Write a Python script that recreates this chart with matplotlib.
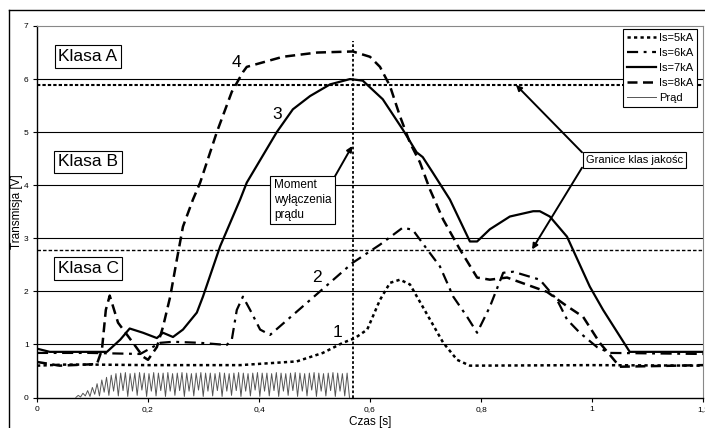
import matplotlib.pyplot as plt
import numpy as np
from matplotlib.lines import Line2D

OUT_FILE = "out.png"

# Is=5kA (krzywa 1)
T1 = [0, 0.05, 0.1, 0.2, 0.3, 0.366, 0.468, 0.515, 0.551, 0.573, 0.595, 0.618,
      0.636, 0.654, 0.672, 0.695, 0.732, 0.757, 0.78, 1.0, 1.2]
V1 = [0.6, 0.62, 0.62, 0.61, 0.61, 0.61, 0.68, 0.84, 1.03, 1.12, 1.28, 1.84,
      2.16, 2.22, 2.13, 1.71, 1.03, 0.71, 0.6, 0.61, 0.6]

# Is=6kA (krzywa 2)
T2 = [0, 0.095, 0.186, 0.222, 0.245, 0.294, 0.342, 0.351, 0.36, 0.371, 0.384,
      0.402, 0.42, 0.51, 0.569, 0.618, 0.659, 0.677, 0.703, 0.726, 0.75, 0.775,
      0.793, 0.816, 0.84, 0.858, 0.906, 0.937, 0.955, 0.978, 1.009, 1.032, 1.2]
V2 = [0.84, 0.84, 0.82, 1.03, 1.05, 1.03, 0.99, 1.09, 1.65, 1.9, 1.65,
      1.28, 1.18, 2.0, 2.54, 2.88, 3.2, 3.16, 2.79, 2.47, 1.9, 1.52,
      1.22, 1.71, 2.35, 2.37, 2.22, 1.84, 1.47, 1.22, 0.95, 0.84, 0.82]

# Is=7kA (krzywa 3)
T3 = [0, 0.023, 0.126, 0.15, 0.167, 0.191, 0.216, 0.227, 0.245, 0.263, 0.288,
      0.299, 0.33, 0.366, 0.378, 0.432, 0.461, 0.492, 0.528, 0.564, 0.587,
      0.623, 0.659, 0.684, 0.695, 0.713, 0.744, 0.78, 0.793, 0.816, 0.852,
      0.894, 0.906, 0.924, 0.955, 0.996, 1.02, 1.068, 1.2]
V3 = [0.92, 0.86, 0.86, 1.09, 1.3, 1.22, 1.12, 1.22, 1.14, 1.28, 1.6,
      1.9, 2.85, 3.73, 4.05, 5.0, 5.43, 5.68, 5.9, 6.0, 5.97,
      5.62, 5.05, 4.62, 4.53, 4.24, 3.73, 2.94, 2.94, 3.17, 3.41,
      3.51, 3.51, 3.41, 3.03, 2.09, 1.65, 0.86, 0.86]

# Is=8kA (krzywa 4)
T4 = [0, 0.041, 0.108, 0.117, 0.124, 0.131, 0.146, 0.173, 0.191, 0.2, 0.216,
      0.227, 0.24, 0.252, 0.263, 0.281, 0.294, 0.324, 0.351, 0.371, 0.378,
      0.443, 0.505, 0.569, 0.6, 0.618, 0.636, 0.654, 0.672, 0.69, 0.708,
      0.732, 0.762, 0.793, 0.816, 0.847, 0.919, 0.951, 0.984, 1.014, 1.05, 1.2]
V4 = [0.67, 0.6, 0.63, 0.9, 1.65, 1.92, 1.41, 1.03, 0.77, 0.71, 0.95,
      1.33, 1.9, 2.6, 3.22, 3.73, 4.05, 5.0, 5.76, 6.13, 6.23,
      6.42, 6.5, 6.52, 6.42, 6.23, 5.87, 5.3, 4.8, 4.43, 3.92,
      3.35, 2.79, 2.26, 2.22, 2.26, 1.99, 1.75, 1.52, 1.03, 0.58, 0.61]

# Prąd - przebieg wyprostowany (wierzchołki i doliny)
PRAD_T0 = 0.07
PRAD_STEP = 0.0085
PRAD_PEAKS = [0.04, 0.08, 0.13, 0.19, 0.26, 0.33, 0.38, 0.42, 0.45, 0.46,
              0.47, 0.45, 0.46, 0.47, 0.46, 0.45, 0.47, 0.46, 0.46, 0.47,
              0.45, 0.46, 0.47, 0.46, 0.45, 0.46, 0.47, 0.46, 0.46, 0.45,
              0.47, 0.46, 0.45, 0.46, 0.47, 0.46, 0.45, 0.46, 0.47, 0.46,
              0.46, 0.45, 0.47, 0.46, 0.45, 0.46, 0.47, 0.46, 0.45, 0.46,
              0.47, 0.46, 0.45, 0.46, 0.47, 0.46, 0.45, 0.46]
PRAD_TROUGHS = [0.0, 0.01, 0.03, 0.02, 0.06, 0.03, 0.1, 0.04, 0.12, 0.03,
                0.13, 0.02, 0.12, 0.04, 0.14, 0.02, 0.12, 0.03, 0.13, 0.02,
                0.12, 0.04, 0.13, 0.02, 0.12, 0.03, 0.14, 0.02, 0.12, 0.03,
                0.13, 0.02, 0.12, 0.04, 0.13, 0.02, 0.12, 0.03, 0.14, 0.02,
                0.12, 0.03, 0.13, 0.02, 0.12, 0.04, 0.13, 0.02, 0.12, 0.03,
                0.14, 0.02, 0.12, 0.03, 0.13, 0.02, 0.12, 0.03, 0.0]

T_OFF = 0.57          # moment wyłączenia prądu
T_OFF_TOP = 6.71
GRANICA_AB = 5.89
GRANICA_BC = 2.78

X_TICKS = [0, 0.2, 0.4, 0.6, 0.8, 1.0, 1.2]
X_LABELS = ["0", "0,2", "0,4", "0,6", "0,8", "1", "1,2"]
Y_TICKS = [0, 1, 2, 3, 4, 5, 6, 7]

LEGEND_LABELS = ["Is=5kA", "Is=6kA", "Is=7kA", "Is=8kA", "Prąd"]


def prad_wave():
    n = len(PRAD_PEAKS)
    t = PRAD_T0 + PRAD_STEP * np.arange(2 * n + 1) / 2
    v = np.empty(2 * n + 1)
    v[0::2] = PRAD_TROUGHS[: n + 1]
    v[1::2] = PRAD_PEAKS
    return t, v


def main():
    plt.rcParams["font.family"] = ["Liberation Sans", "DejaVu Sans"]
    fig = plt.figure(figsize=(7.05, 4.28), dpi=100)
    ax = fig.add_axes([37 / 705, 30.5 / 428, 666 / 705, 371.5 / 428])

    # ramka obszaru wykresu
    fig.add_artist(Line2D([9 / 705, 9 / 705], [0, 418 / 428], color="black", lw=1.0))
    fig.add_artist(Line2D([9 / 705, 1.0], [418 / 428, 418 / 428], color="black", lw=1.0))

    for y in Y_TICKS[1:-1]:
        ax.axhline(y, color="black", lw=0.8, zorder=1)

    ax.axhline(GRANICA_AB, color="black", lw=1.5, ls=(0, (1.6, 1.0)), zorder=2)
    ax.axhline(GRANICA_BC, color="black", lw=1.0, ls=(0, (2.5, 1.5)), zorder=2)
    ax.vlines(T_OFF, 0, T_OFF_TOP, color="black", lw=1.3, ls=(0, (1.5, 1.2)), zorder=2)

    tp, vp = prad_wave()
    h5, = ax.plot(T1, V1, color="black", lw=1.8, ls=(0, (1.3, 1.3)), zorder=4)
    h6, = ax.plot(T2, V2, color="black", lw=1.6, ls=(0, (5, 2.5, 1.3, 2.5)), zorder=4)
    h7, = ax.plot(T3, V3, color="black", lw=1.6, zorder=4)
    h8, = ax.plot(T4, V4, color="black", lw=1.8, ls=(0, (4, 2.2)), zorder=4)
    hp, = ax.plot(tp, vp, color="#555555", lw=0.7, zorder=3)

    box = dict(boxstyle="square,pad=0.22", fc="white", ec="black", lw=0.8)
    for label, v in [("Klasa A", 6.42), ("Klasa B", 4.44), ("Klasa C", 2.43)]:
        ax.text(0.092, v, label, fontsize=12.5, ha="center", va="center", bbox=box, zorder=6)

    for label, t, v in [("4", 0.36, 6.32), ("3", 0.432, 5.34), ("2", 0.505, 2.26), ("1", 0.541, 1.22)]:
        ax.text(t, v, label, fontsize=12.5, ha="center", va="center", zorder=6)

    ax.text(0.427, 4.11, "Moment\nwyłączenia\nprądu", fontsize=8.5, ha="left", va="top",
            linespacing=1.3, bbox=dict(boxstyle="square,pad=0.3", fc="white", ec="black", lw=0.8),
            zorder=6)
    arrow = dict(arrowstyle="-|>", color="black", lw=1.4, mutation_scale=8, shrinkA=0, shrinkB=0)
    ax.annotate("", xy=(0.568, 4.74), xytext=(0.537, 4.17), arrowprops=arrow, zorder=6)

    ax.text(1.077, 4.48, "Granice klas jakośc", fontsize=8, ha="center", va="center",
            bbox=dict(boxstyle="square,pad=0.25", fc="white", ec="black", lw=0.8), zorder=6)
    ax.annotate("", xy=(0.863, 5.89), xytext=(0.982, 4.62), arrowprops=arrow, zorder=6)
    ax.annotate("", xy=(0.892, 2.79), xytext=(0.982, 4.33), arrowprops=arrow, zorder=6)

    ax.set_xlim(0, 1.2)
    ax.set_ylim(0, 7)
    ax.set_xticks(X_TICKS)
    ax.set_xticklabels(X_LABELS)
    ax.set_yticks(Y_TICKS)
    ax.tick_params(labelsize=6, length=3, width=0.8, pad=3)
    for side in ("top", "right"):
        ax.spines[side].set_color("#888888")
    for side in ("left", "bottom"):
        ax.spines[side].set_linewidth(1.0)

    ax.set_xlabel("Czas [s]", fontsize=8.5, labelpad=2)
    ax.set_ylabel("Transmisja [V]", fontsize=8.5, labelpad=1)

    leg = ax.legend([h5, h6, h7, h8, hp], LEGEND_LABELS, loc="upper right",
                    bbox_to_anchor=(0.991, 0.992), fontsize=8, frameon=True,
                    fancybox=False, edgecolor="black", framealpha=1,
                    handlelength=2.6, handletextpad=0.3, borderpad=0.35,
                    labelspacing=0.45, borderaxespad=0)
    leg.get_frame().set_linewidth(0.8)
    leg.set_zorder(7)

    fig.savefig(OUT_FILE, dpi=100)
    plt.close(fig)


if __name__ == "__main__":
    main()
